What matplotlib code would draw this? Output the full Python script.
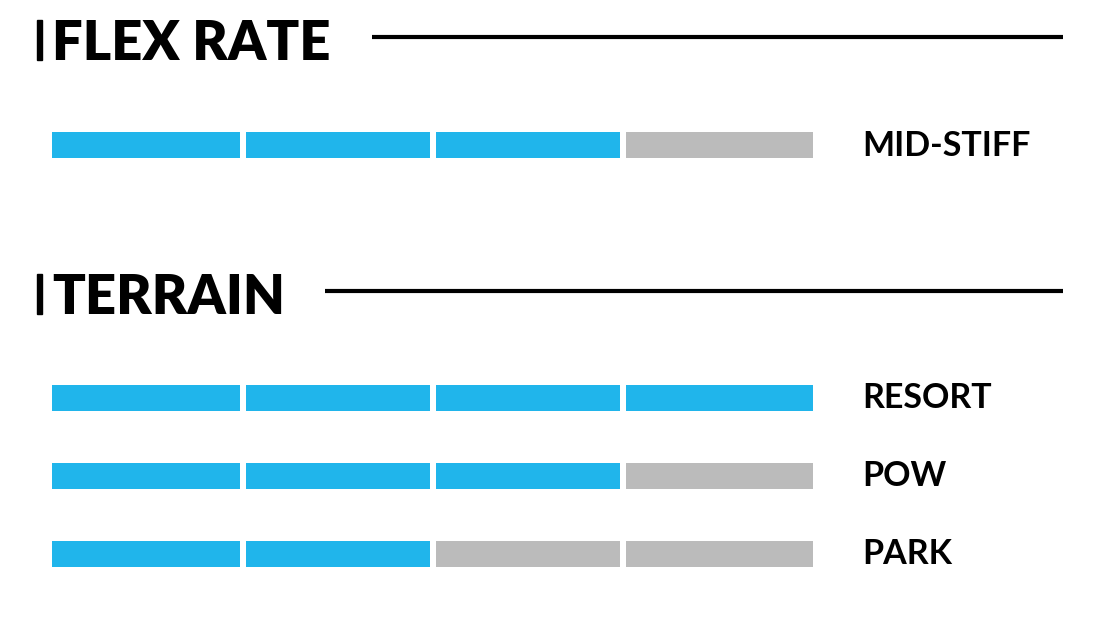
import numpy as np
import matplotlib.pyplot as plt

# Datos de la ficha
sections = ['FLEX RATE', 'TERRAIN']
flex_labels = ['MID-STIFF']
flex_levels = [3]
terrain_labels = ['RESORT', 'POW', 'PARK']
terrain_levels = [4, 3, 2]
n_segments = 4

blue = '#20b5eb'
gray = '#bbbbbb'

fig = plt.figure(figsize=(11.06, 6.34), dpi=100)
ax = fig.add_axes([0, 0, 1, 1])
ax.set_xlim(0, 1106)
ax.set_ylim(634, 0)
ax.axis('off')

# Geometria en pixeles
seg_left = np.array([52, 246, 436, 626])
seg_width = np.array([188, 184, 184, 187])
bar_h = 26
label_x = 862


def heading(text, baseline, line_start):
    ax.add_patch(plt.Rectangle((37, baseline - 40), 4.5, 40, color='black'))
    ax.text(52, baseline, text, fontsize=39, fontweight='heavy', family=['Lato', 'DejaVu Sans'],
            va='baseline', ha='left', color='black')
    ax.plot([line_start, 1063], [baseline - 23, baseline - 23], color='black', lw=3, solid_capstyle='butt')


def rating_row(label, level, ycenter):
    colors = [blue if i < level else gray for i in range(n_segments)]
    ax.barh([ycenter] * n_segments, seg_width, left=seg_left, height=bar_h, color=colors)
    ax.text(label_x, ycenter + 11, label, fontsize=24.5, fontweight='bold', family=['Lato', 'DejaVu Sans'],
            va='baseline', ha='left', color='black')


heading(sections[0], 60, 372)
for lab, lev, y in zip(flex_labels, flex_levels, [144.5]):
    rating_row(lab, lev, y)

heading(sections[1], 314, 325)
for lab, lev, y in zip(terrain_labels, terrain_levels, [397.5, 475.5, 553.5]):
    rating_row(lab, lev, y)

plt.savefig('out.png', dpi=100)
